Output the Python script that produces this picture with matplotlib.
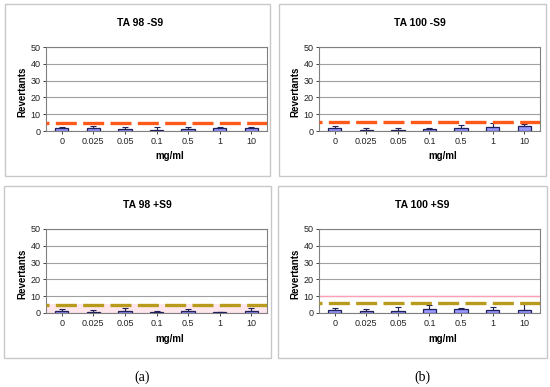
import matplotlib
matplotlib.use('Agg')
import matplotlib.pyplot as plt
from matplotlib.patches import Rectangle
import numpy as np

plt.rcParams['font.family'] = ['Liberation Sans', 'DejaVu Sans']

doses = ['0', '0.025', '0.05', '0.1', '0.5', '1', '10']
titles = ['TA 98 -S9', 'TA 100 -S9', 'TA 98 +S9', 'TA 100 +S9']

# mean revertants per dose, and positive error
ta98_m = [1.5, 1.5, 1.3, 0.8, 1.3, 1.5, 1.5]
ta98_m_err = [1.0, 1.5, 1.3, 1.8, 0.8, 1.0, 1.0]
ta100_m = [1.8, 0.8, 0.8, 1.2, 1.8, 2.3, 2.8]
ta100_m_err = [1.0, 1.0, 1.0, 0.5, 2.0, 2.5, 1.5]
ta98_p = [1.3, 0.7, 1.3, 0.8, 1.2, 0.3, 1.0]
ta98_p_err = [1.0, 1.0, 1.5, 0.3, 1.2, 0.5, 2.0]
ta100_p = [2.0, 1.0, 1.2, 2.2, 2.2, 1.8, 2.0]
ta100_p_err = [1.2, 1.5, 2.5, 2.5, 0.5, 1.5, 3.5]

# control (dashed) levels
controls = [5.0, 5.5, 4.5, 6.0]

means = [ta98_m, ta100_m, ta98_p, ta100_p]
errs = [ta98_m_err, ta100_m_err, ta98_p_err, ta100_p_err]

W, H = 550, 387
fig = plt.figure(figsize=(W / 100, H / 100), dpi=100)

def fx(x):
    return x / W

def fy(y):
    return 1 - y / H

# pixel layout: plot area (x0, x1, ytop, ybottom), chart box, title pos, xlabel pos, ylabel x
plots = [(46, 267, 47, 131), (319, 540, 47, 131), (46, 267, 229, 313), (319, 540, 229, 313)]
boxes = [(5, 270, 4, 176), (279, 546, 4, 176), (4, 271, 186, 358), (278, 547, 186, 358)]
title_pos = [(140, 23), (420, 23), (147, 205), (422, 205)]
xlab_pos = [(170, 156), (443, 156), (170, 339), (443, 339)]
ylab_x = [22, 295, 22, 295]
dash_colors = ['#ff5a1a', '#ff5a1a', '#b89a1c', '#b89a1c']

for i in range(4):
    bx0, bx1, by0, by1 = boxes[i]
    fig.patches.append(Rectangle((fx(bx0), fy(by1)), fx(bx1 - bx0), (by1 - by0) / H,
                                 transform=fig.transFigure, fill=False,
                                 edgecolor='#c8c8c8', linewidth=1.0))
    x0, x1, yt, yb = plots[i]
    ax = fig.add_axes([fx(x0), fy(yb), fx(x1 - x0), (yb - yt) / H])
    idx = np.arange(len(doses))
    m = np.array(means[i])
    e = np.array(errs[i])
    if i == 2:
        ax.axhspan(0, 5.5, color='#ffd6e0', alpha=0.6, zorder=0, lw=0)
    if i == 3:
        ax.axhline(10, color='#ff9fb8', lw=1.0, zorder=1)
    ax.bar(idx, m, 0.42, color='#9999ff', edgecolor='#20205a', linewidth=0.9, zorder=3)
    ax.errorbar(idx, m, yerr=[np.zeros_like(e), e], fmt='none', ecolor='#20205a',
                elinewidth=0.8, capsize=2.5, capthick=0.8, zorder=4)
    ax.axhline(controls[i], color=dash_colors[i], lw=2.4,
               linestyle=(5.4, (6.3, 1.9)), zorder=5)
    ax.set_xlim(-0.5, len(doses) - 0.5)
    ax.set_ylim(0, 50)
    ax.set_yticks([0, 10, 20, 30, 40, 50])
    ax.yaxis.grid(True, color='#a0a0a0', lw=0.8)
    ax.set_axisbelow(True)
    ax.set_xticks(idx)
    ax.set_xticklabels(doses)
    ax.tick_params(labelsize=6.5, length=2, width=0.6, pad=2, colors='#222222')
    for s in ax.spines.values():
        s.set_color('#808080')
        s.set_linewidth(0.8)
    tx, ty = title_pos[i]
    fig.text(fx(tx), fy(ty), titles[i], ha='center', va='center', fontsize=7.5, fontweight='bold')
    lx, ly = xlab_pos[i]
    fig.text(fx(lx), fy(ly), 'mg/ml', ha='center', va='center', fontsize=7, fontweight='bold')
    fig.text(fx(ylab_x[i]), fy((yt + yb) / 2 + 3), 'Revertants', ha='center', va='center',
             rotation=90, fontsize=7, fontweight='bold')

fig.text(fx(142), fy(377), '(a)', ha='center', va='center', fontsize=10,
         family=['Liberation Serif', 'DejaVu Serif'])
fig.text(fx(422), fy(377), '(b)', ha='center', va='center', fontsize=10,
         family=['Liberation Serif', 'DejaVu Serif'])

fig.savefig('out.png', dpi=100)
